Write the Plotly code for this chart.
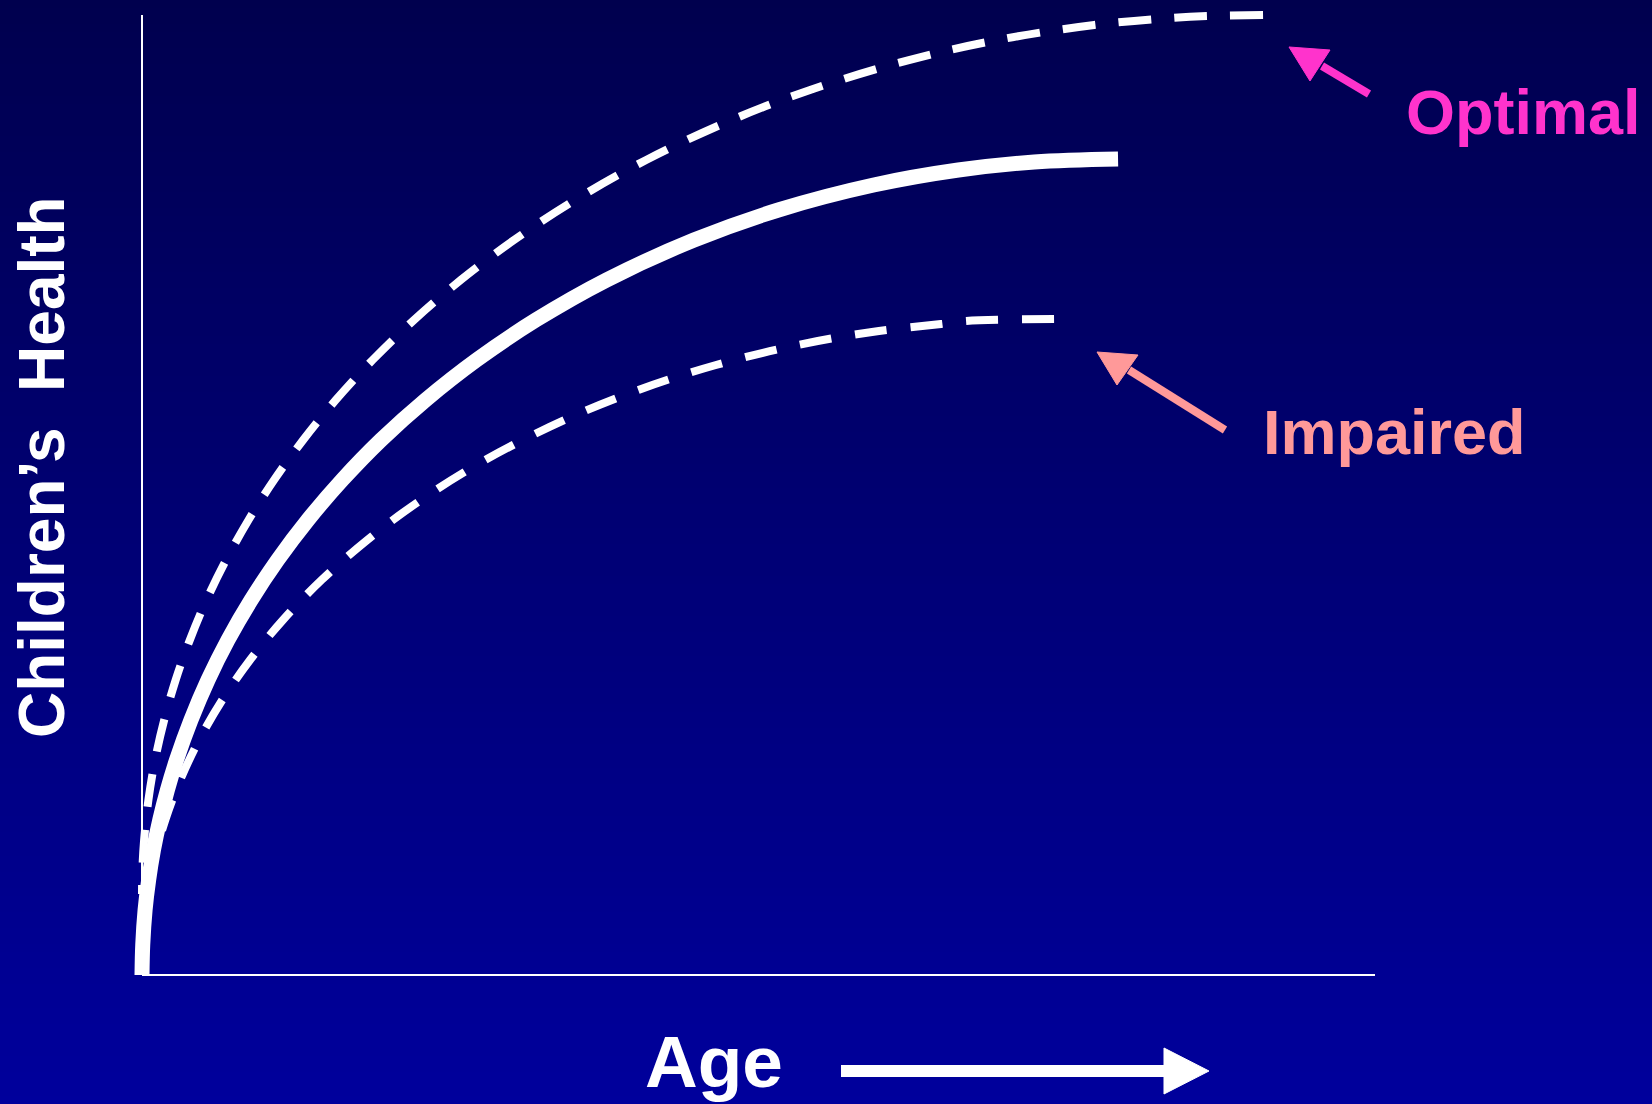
import plotly.graph_objects as go

# ---------------- data (age units 0..10, health units 0..10) ----------------
optimal_age = [0.000, 0.003, 0.017, 0.052, 0.106, 0.180, 0.273, 0.388, 0.523, 0.682,
               0.864, 1.071, 1.307, 1.572, 1.870, 2.206, 2.586, 3.017, 3.512, 4.089,
               4.782, 5.418, 6.220, 6.940, 7.723, 8.342, 8.657, 9.092]
optimal_health = [0.844, 1.094, 1.406, 1.823, 2.240, 2.656, 3.073, 3.490, 3.906, 4.323,
                  4.740, 5.156, 5.573, 5.990, 6.406, 6.823, 7.240, 7.656, 8.073, 8.490,
                  8.906, 9.219, 9.531, 9.740, 9.896, 9.969, 9.990, 10.000]

normal_age = [0.000, 0.006, 0.025, 0.054, 0.093, 0.144, 0.206, 0.280, 0.397, 0.535,
              0.697, 0.885, 1.100, 1.345, 1.623, 1.938, 2.300, 2.713, 3.195, 3.768,
              4.477, 5.161, 5.934, 6.621, 7.237, 7.916]
normal_health = [0.000, 0.313, 0.677, 0.990, 1.302, 1.615, 1.927, 2.240, 2.656, 3.073,
                 3.490, 3.906, 4.323, 4.740, 5.156, 5.573, 5.990, 6.406, 6.823, 7.240,
                 7.656, 7.969, 8.229, 8.385, 8.469, 8.500]

impaired_age = [0.000, 0.006, 0.037, 0.098, 0.189, 0.310, 0.463, 0.651, 0.876, 1.143,
                1.457, 1.826, 2.262, 2.784, 3.426, 4.026, 4.655, 5.320, 5.921, 6.480,
                6.685, 7.397]
impaired_health = [0.104, 0.365, 0.781, 1.198, 1.615, 2.031, 2.448, 2.865, 3.281, 3.698,
                   4.115, 4.531, 4.948, 5.365, 5.781, 6.094, 6.354, 6.563, 6.698, 6.781,
                   6.813, 6.833]

axis_x_max = 10
axis_y_max = 10

label_optimal = "Optimal"
label_impaired = "Impaired"
label_x = "Age"
label_y = "Children\u2019s  Health"

# ---------------- layout helpers ----------------
W, H = 1652, 1104
X0_PX, Y0_PX = 142, 975          # pixel of data origin
X_PER = (1375 - 142) / axis_x_max
Y_PER = (975 - 15) / axis_y_max
x_range = [-X0_PX / X_PER, (W - X0_PX) / X_PER]
y_range = [(Y0_PX - H) / Y_PER, Y0_PX / Y_PER]


def px(x, y):
    return x / W, 1 - y / H


fig = go.Figure()

# axes lines
fig.add_trace(go.Scatter(x=[0, axis_x_max], y=[0, 0], mode="lines",
                         line=dict(color="white", width=2), hoverinfo="skip"))
fig.add_trace(go.Scatter(x=[0, 0], y=[0, axis_y_max], mode="lines",
                         line=dict(color="white", width=2), hoverinfo="skip"))

# curves (dashed ones drawn from their right end so the dash pattern ends cleanly there)
fig.add_trace(go.Scatter(x=optimal_age[::-1], y=optimal_health[::-1], mode="lines",
                         line=dict(color="white", width=8, dash="33px,23px", shape="spline"),
                         name=label_optimal, hoverinfo="skip"))
fig.add_trace(go.Scatter(x=impaired_age[::-1], y=impaired_health[::-1], mode="lines",
                         line=dict(color="white", width=8, dash="32px,24px", shape="spline"),
                         name=label_impaired, hoverinfo="skip"))
fig.add_trace(go.Scatter(x=normal_age, y=normal_health, mode="lines",
                         line=dict(color="white", width=15, shape="spline"),
                         name="Normal", hoverinfo="skip"))

shapes = []
# background vertical gradient
N = 138
top = (0, 0, 78)
bot = (0, 0, 156)
for i in range(N):
    t = (i + 0.5) / N
    c = tuple(round(top[k] + (bot[k] - top[k]) * t) for k in range(3))
    shapes.append(dict(type="rect", xref="paper", yref="paper",
                       x0=0, x1=1, y0=1 - (i + 1) / N - 0.001, y1=1 - i / N,
                       fillcolor="rgb(%d,%d,%d)" % c, line=dict(width=0), layer="below"))


def arrow(tail, base_mid, tip, b1, b2, color, width):
    x0, y0 = px(*tail)
    x1, y1 = px(*base_mid)
    shapes.append(dict(type="line", xref="paper", yref="paper", x0=x0, y0=y0, x1=x1, y1=y1,
                       line=dict(color=color, width=width), layer="above"))
    pts = [px(*tip), px(*b1), px(*b2)]
    path = "M %f %f L %f %f L %f %f Z" % (pts[0][0], pts[0][1], pts[1][0], pts[1][1], pts[2][0], pts[2][1])
    shapes.append(dict(type="path", xref="paper", yref="paper", path=path,
                       fillcolor=color, line=dict(color=color, width=1), layer="above"))


arrow((1369, 94), (1322, 66), (1289, 47), (1330, 50), (1310, 81), "#FF33CC", 8)
arrow((1225, 430), (1129, 370), (1097, 352), (1138, 355), (1117, 385), "#FF9999", 8)
arrow((841, 1071), (1167, 1071), (1209, 1071), (1164, 1048), (1164, 1094), "#FFFFFF", 12)

annotations = []


def text(label, x, y, size, color, xanchor="left", angle=0):
    ax, ay = px(x, y)
    annotations.append(dict(text="<b>%s</b>" % label, x=ax, y=ay, xref="paper", yref="paper",
                            showarrow=False, xanchor=xanchor, yanchor="middle",
                            textangle=angle,
                            font=dict(size=size, color=color,
                                      family="Liberation Sans, Arial, sans-serif")))


text(label_optimal, 1404, 112, 63, "#FF33CC")
text(label_impaired, 1261, 432, 63, "#FF9999")
text(label_x, 714, 1061, 73, "#FFFFFF", xanchor="center")
text(label_y, 42, 467, 64, "#FFFFFF", xanchor="center", angle=-90)

fig.update_layout(
    width=W, height=H,
    margin=dict(l=0, r=0, t=0, b=0),
    paper_bgcolor="#00004E", plot_bgcolor="rgba(0,0,0,0)",
    showlegend=False,
    xaxis=dict(range=x_range, visible=False, fixedrange=True),
    yaxis=dict(range=y_range, visible=False, fixedrange=True),
    shapes=shapes, annotations=annotations,
)

fig.write_html("out.html",
               config=dict(displayModeBar=False, staticPlot=True),
               post_script="document.body.style.margin='0';document.body.style.padding='0';"
                           "document.documentElement.style.overflow='hidden';")
